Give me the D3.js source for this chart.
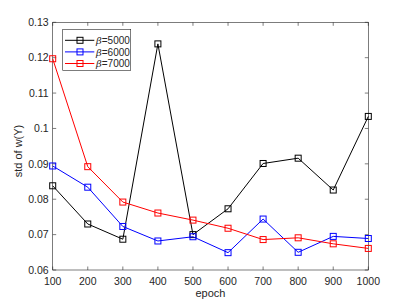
<!DOCTYPE html>
<html><head><meta charset="utf-8">
<script src="https://cdn.jsdelivr.net/npm/d3@7"></script>
<style>body{margin:0;background:#fff}svg{display:block}text{font-family:"Liberation Sans",Arial,sans-serif}</style>
</head><body><svg id="c" width="407" height="305"></svg>
<script>
const epochs = [100,200,300,400,500,600,700,800,900,1000];
const beta5000 = [0.0838,0.0730,0.0687,0.1239,0.0700,0.0773,0.0901,0.0916,0.0826,0.1034];
const beta6000 = [0.0894,0.0834,0.0723,0.0682,0.0694,0.0649,0.0744,0.0650,0.0695,0.0689];
const beta7000 = [0.1197,0.0892,0.0792,0.0761,0.0741,0.0718,0.0686,0.0691,0.0674,0.0661];
const seriesNames = ["5000","6000","7000"];
const seriesColors = ["#000000","#0000ff","#ff0000"];
const xTicks = [100,200,300,400,500,600,700,800,900,1000];
const yTicks = [0.06,0.07,0.08,0.09,0.1,0.11,0.12,0.13];

const svg = d3.select("#c");
const L=52.7,R=368.3,T=22.3,B=270;
const x = d3.scaleLinear().domain([100,1000]).range([L,R]);
const y = d3.scaleLinear().domain([0.06,0.13]).range([B,T]);
const axc="#262626";

const g = svg.append("g");
xTicks.forEach(t=>{
  g.append("line").attr("x1",x(t)).attr("x2",x(t)).attr("y1",B).attr("y2",B-3.5).attr("stroke",axc).attr("stroke-width",0.6);
  g.append("line").attr("x1",x(t)).attr("x2",x(t)).attr("y1",T).attr("y2",T+3.5).attr("stroke",axc).attr("stroke-width",0.6);
  g.append("text").attr("x",x(t)).attr("y",B+14.5).attr("text-anchor","middle").attr("font-size",10.5).attr("fill",axc).text(t);
});
yTicks.forEach(t=>{
  g.append("line").attr("x1",L).attr("x2",L+3.5).attr("y1",y(t)).attr("y2",y(t)).attr("stroke",axc).attr("stroke-width",0.6);
  g.append("line").attr("x1",R).attr("x2",R-3.5).attr("y1",y(t)).attr("y2",y(t)).attr("stroke",axc).attr("stroke-width",0.6);
  g.append("text").attr("x",L-4).attr("y",y(t)+3.7).attr("text-anchor","end").attr("font-size",10.5).attr("fill",axc).text(+t.toFixed(2));
});
g.append("rect").attr("x",L).attr("y",T).attr("width",R-L).attr("height",B-T).attr("fill","none").attr("stroke",axc).attr("stroke-width",0.6);

const data=[beta5000,beta6000,beta7000];
const line=d3.line().x((d,i)=>x(epochs[i])).y(d=>y(d));
data.forEach((s,k)=>{
  svg.append("path").attr("d",line(s)).attr("fill","none").attr("stroke",seriesColors[k]).attr("stroke-width",1);
  svg.selectAll(null).data(s).enter().append("rect")
    .attr("x",(d,i)=>x(epochs[i])-3).attr("y",d=>y(d)-3).attr("width",6).attr("height",6)
    .attr("fill","none").attr("stroke",seriesColors[k]).attr("stroke-width",1);
});

svg.append("text").attr("x",(L+R)/2).attr("y",297).attr("text-anchor","middle").attr("font-size",11).attr("fill",axc).text("epoch");
const yl=svg.append("text").attr("transform","translate(22,151) rotate(-90)").attr("text-anchor","middle").attr("font-size",11).attr("fill",axc);
yl.append("tspan").text("std of ");
yl.append("tspan").text("w");
yl.append("tspan").text("(Y)");

const lg=svg.append("g");
lg.append("rect").attr("x",62.7).attr("y",29.5).attr("width",68).attr("height",41).attr("fill","#fff").attr("stroke",axc).attr("stroke-width",0.6);
seriesNames.forEach((n,k)=>{
  const yy=40.3+k*11.6;
  lg.append("line").attr("x1",65).attr("x2",94.3).attr("y1",yy).attr("y2",yy).attr("stroke",seriesColors[k]).attr("stroke-width",1);
  lg.append("rect").attr("x",80-3).attr("y",yy-3).attr("width",6).attr("height",6).attr("fill","none").attr("stroke",seriesColors[k]).attr("stroke-width",1);
  const t=lg.append("text").attr("x",96).attr("y",yy+3.6).attr("font-size",10).attr("fill",axc);
  t.append("tspan").attr("font-style","italic").attr("font-family","'DejaVu Serif',serif").text("β");
  t.append("tspan").text("="+n);
});
</script></body></html>
